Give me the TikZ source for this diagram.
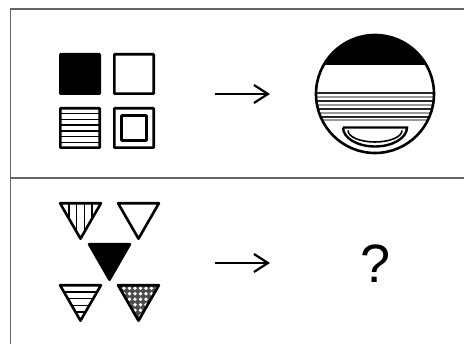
\documentclass[tikz,border=0pt]{standalone}
\usepackage{fontspec}
\setmainfont{Liberation Sans}
\usetikzlibrary{arrows.meta}
\tikzset{
  frame/.style={draw=black!60, line width=1.8pt},
  tile/.style={draw, line width=2.6pt, rounded corners=0.6pt},
  tri/.style={draw, line width=2.6pt, line join=round},
  stripe/.style={line width=1.5pt},
  arrow/.style={-{Straight Barb[length=14pt,width=18pt,line width=2.2pt]}, line width=2pt},
  ask/.style={font=\fontsize{54}{60}\selectfont, inner sep=0pt},
}

\begin{document}
\begin{tikzpicture}[x=1pt,y=-1pt]
\useasboundingbox (0,0) rectangle (464,344);
% frame
\draw[frame] (10.5,360) -- (10.5,9) -- (480,9);
\draw[frame] (10.5,178) -- (480,178);

% row 1: squares
\draw[tile, fill=black] (60.3,54.3) rectangle (99.7,93.7);
\draw[tile] (114.3,54.3) rectangle (153.7,93.7);
\foreach \k in {1,...,6}
  \draw[stripe] (60,108+\k*40/7) -- (100,108+\k*40/7);
\draw[tile] (60.3,108.3) rectangle (99.7,147.7);
\draw[tile] (114.3,108.3) rectangle (153.7,147.7);
\draw[tile] (121.5,115.5) rectangle (146.5,140.5);

% row 1: ball
\coordinate (ball) at (375,94);
\begin{scope}
  \clip (ball) circle[radius=59];
  \fill (300,20) rectangle (450,65.5);
  \foreach \y/\c in {93/black!85,97/black!40,101/black!85,105/black!40,109/black!85,113/black!40,117/black!85,120.5/black!40}
    \draw[line width=2pt, draw=\c] (300,\y) -- (450,\y);
\end{scope}
\draw[line width=2.4pt, fill=white] (343,127.5) -- (407,127.5)
  arc[start angle=0, end angle=180, x radius=32, y radius=19];
\draw[line width=1.6pt] (402,130.5)
  arc[start angle=0, end angle=180, x radius=27, y radius=11.5];
\draw[line width=2.6pt] (ball) circle[radius=59];

% row 2: triangles
\coordinate (triA) at (80.5,203.3);
\coordinate (triB) at (138.5,203.3);
\coordinate (triC) at (109.5,244.3);
\coordinate (triD) at (80.5,285.3);
\coordinate (triE) at (138.5,285.3);
\begin{scope}
  \clip (triA) ++(-20.4,0) -- ++(40.8,0) -- ++(-20.4,35.4) -- cycle;
  \foreach \dx in {-11.5,-3.8,3.8,11.5}
    \draw[stripe] ([xshift=\dx pt]triA) -- ++(0,40);
\end{scope}
\draw[tri] (triA) ++(-20.4,0) -- ++(40.8,0) -- ++(-20.4,35.4) -- cycle;
\draw[tri] (triB) ++(-20.4,0) -- ++(40.8,0) -- ++(-20.4,35.4) -- cycle;
\draw[tri, fill=black] (triC) ++(-20.4,0) -- ++(40.8,0) -- ++(-20.4,35.4) -- cycle;
\begin{scope}
  \clip (triD) ++(-20.4,0) -- ++(40.8,0) -- ++(-20.4,35.4) -- cycle;
  \foreach \dy in {6.6,13.3,20,26.7}
    \draw[stripe] ([yshift=-\dy pt]triD) ++(-25,0) -- ++(50,0);
\end{scope}
\draw[tri] (triD) ++(-20.4,0) -- ++(40.8,0) -- ++(-20.4,35.4) -- cycle;
\begin{scope}
  \clip (triE) ++(-20.4,0) -- ++(40.8,0) -- ++(-20.4,35.4) -- cycle;
  \fill[black!70] (triE) ++(-22,0) rectangle ++(44,38);
  \foreach \i in {0,...,8}
    \foreach \j in {0,...,6}
      \fill[white] ([shift={(-20+\i*5.5,3+\j*5.5)}]triE) circle[radius=1.9];
\end{scope}
\draw[tri] (triE) ++(-20.4,0) -- ++(40.8,0) -- ++(-20.4,35.4) -- cycle;

% arrows
\coordinate (goA) at (215,94);
\coordinate (toA) at (270,94);
\coordinate (goB) at (215,263);
\coordinate (toB) at (270,263);
\draw[arrow] (goA) -- (toA);
\draw[arrow] (goB) -- (toB);

\node[ask] (query) at (376,264) {?};
\end{tikzpicture}
\end{document}
